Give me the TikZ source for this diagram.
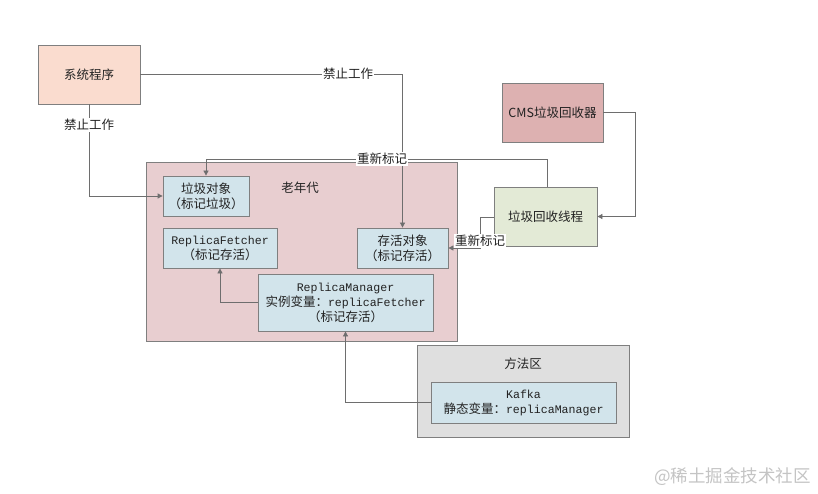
\documentclass[tikz,border=0pt]{standalone}
\usepackage{fontspec}
\newfontfamily\cjk{Noto Sans CJK SC}
\newfontfamily\mono{Liberation Mono}
\usetikzlibrary{arrows.meta}
\newcommand{\mt}[1]{{\mono\fontsize{11.6}{15}\selectfont #1}}
\definecolor{sysfill}{HTML}{FADCCF}
\definecolor{cmsfill}{HTML}{DDB1B1}
\definecolor{oldfill}{HTML}{E8CED0}
\definecolor{bluefill}{HTML}{D2E4EB}
\definecolor{threadfill}{HTML}{E3EAD6}
\definecolor{methodfill}{HTML}{DFDFDF}
\definecolor{boxline}{HTML}{7F7F7F}
\definecolor{linec}{HTML}{6E6E6E}
\definecolor{txt}{HTML}{222222}
\definecolor{wm}{HTML}{C4C4C4}
\tikzset{
  box/.style={draw=boxline, line width=0.8pt, align=center, inner sep=0pt,
    font=\cjk\fontsize{12.5}{15}\selectfont, text=txt},
  conn/.style={draw=linec, line width=0.8pt, -{Triangle[length=5pt,width=5pt]}},
  lbl/.style={fill=white, inner sep=1pt, font=\cjk\fontsize{12.5}{15}\selectfont, text=txt},
  plain/.style={inner sep=0pt, font=\cjk\fontsize{12.5}{15}\selectfont, text=txt}
}
\begin{document}
\begin{tikzpicture}[x=1pt,y=-1pt]
\fill[white] (0,0) rectangle (818,494);
\useasboundingbox (0,0) rectangle (818,494);

% boxes
\node[box, fill=sysfill, minimum width=102pt, minimum height=59pt] (sys) at (89,74.5) {系统程序};
\node[box, fill=cmsfill, minimum width=101pt, minimum height=59pt] (cms) at (552.5,112.5) {CMS垃圾回收器};
\node[box, fill=threadfill, minimum width=103pt, minimum height=59pt] (thread) at (545.5,216.5) {垃圾回收线程};
\node[box, fill=oldfill, minimum width=311pt, minimum height=179pt] (old) at (301.5,251.5) {};
\node[plain] (oldlbl) at (300,188) {老年代};
\node[box, fill=bluefill, minimum width=86pt, minimum height=40pt] (garb) at (206,196) {垃圾对象\\（标记垃圾）};
\node[box, fill=bluefill, minimum width=114pt, minimum height=40pt] (rf) at (220,248) {\mt{ReplicaFetcher}\\（标记存活）};
\node[box, fill=bluefill, minimum width=91pt, minimum height=40pt] (alive) at (402.5,248) {存活对象\\（标记存活）};
\node[box, fill=bluefill, minimum width=175pt, minimum height=57pt] (rm) at (345.5,302.5) {\mt{ReplicaManager}\\实例变量：\mt{replicaFetcher}\\（标记存活）};
\node[box, fill=methodfill, minimum width=212pt, minimum height=92pt] (method) at (523,391) {};
\node[plain] (methodlbl) at (523,364) {方法区};
\node[box, fill=bluefill, minimum width=185pt, minimum height=41pt] (kafka) at (523.5,402.5) {\mt{Kafka}\\静态变量：\mt{replicaManager}};

% connectors
\draw[conn] (sys.east) -| (alive.north);
\node[lbl] (l1) at (348,74) {禁止工作};
\draw[conn] (sys.south) |- (garb.west);
\node[lbl] (l2) at (89,125) {禁止工作};
\coordinate (c1) at (635,112.5);
\draw[conn] (cms.east) -- (c1) |- (thread.east);
\coordinate (c2) at (547,159);
\draw[conn] (thread.north -| c2) -- (c2) -| (garb.north);
\node[lbl] (l3) at (382,159) {重新标记};
\coordinate (c3) at (480,217);
\draw[conn] (thread.west |- c3) -- (c3) |- (alive.east);
\node[lbl] (l4) at (480,241) {重新标记};
\draw[conn] (rm.west) -| (rf.south);
\draw[conn] (kafka.west) -| (rm.south);

% watermark
\node[inner sep=0pt, font=\cjk\fontsize{17.5}{20}\selectfont, text=wm] (wmark) at (732.5,477) {@稀土掘金技术社区};
\end{tikzpicture}
\end{document}
